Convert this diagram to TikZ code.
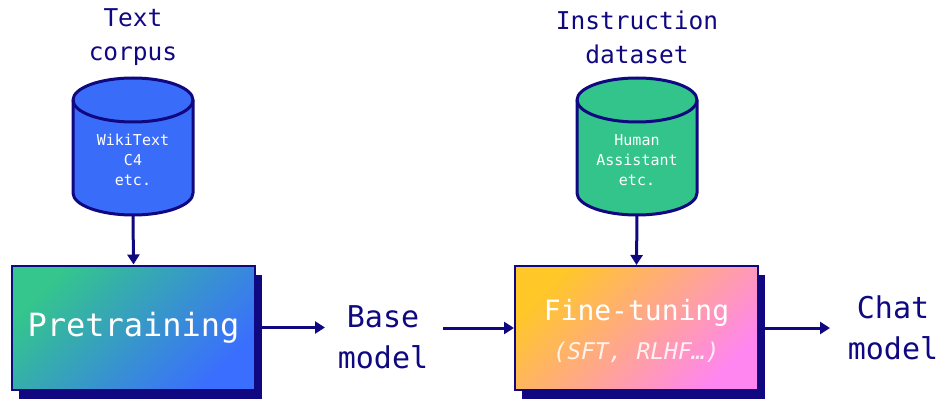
\documentclass[tikz,border=0pt]{standalone}
\usepackage{fontspec}
\setmonofont{DejaVu Sans Mono}
\usetikzlibrary{arrows.meta,shadows}
\definecolor{navy}{RGB}{16,8,128}
\definecolor{cylblue}{RGB}{58,108,250}
\definecolor{cylgreen}{RGB}{50,196,138}
\definecolor{ptgreen}{RGB}{52,198,140}
\definecolor{ptblue}{RGB}{58,110,255}
\definecolor{ftyellow}{RGB}{255,199,40}
\definecolor{ftpink}{RGB}{255,134,240}
\begin{document}
\begin{tikzpicture}[x=1pt,y=1pt,
  lbl/.style={text=navy,align=center,font=\ttfamily\fontsize{24.5}{34}\selectfont},
  bigl/.style={text=navy,align=center,font=\ttfamily\fontsize{30}{41}\selectfont},
  cyltext/.style={text=white,align=center,font=\ttfamily\fontsize{15}{20}\selectfont},
  cyl/.style={draw=navy,line width=3pt},
  arr/.style={draw=navy,line width=3pt,-{Triangle[length=10pt,width=12pt]}},
  stagebox/.style={draw=navy,line width=2pt,minimum width=243pt,minimum height=124pt,
     drop shadow={shadow xshift=7pt,shadow yshift=-9pt,fill=navy,opacity=1}}
]
\useasboundingbox (0,0) rectangle (939,402);
% top labels
\node[lbl] (tc) at (133,364.5) {Text\\corpus};
\node[lbl] (id) at (637,364.5) {Instruction\\dataset};
% cylinder 1
\fill[cylblue] (73,302) -- (73,209) arc[start angle=180,end angle=360,x radius=60pt,y radius=22pt] -- (193,302) arc[start angle=0,end angle=180,x radius=60pt,y radius=22pt] -- cycle;
\draw[cyl] (73,302) -- (73,209) arc[start angle=180,end angle=360,x radius=60pt,y radius=22pt] -- (193,302) arc[start angle=0,end angle=180,x radius=60pt,y radius=22pt] -- cycle;
\draw[cyl] (73,302) arc[start angle=180,end angle=360,x radius=60pt,y radius=22pt];
\node[cyltext] (db1) at (133,242) {WikiText\\C4\\etc.};
\coordinate (db1bot) at (133,187);
% cylinder 2
\fill[cylgreen] (577,302) -- (577,209) arc[start angle=180,end angle=360,x radius=60pt,y radius=22pt] -- (697,302) arc[start angle=0,end angle=180,x radius=60pt,y radius=22pt] -- cycle;
\draw[cyl] (577,302) -- (577,209) arc[start angle=180,end angle=360,x radius=60pt,y radius=22pt] -- (697,302) arc[start angle=0,end angle=180,x radius=60pt,y radius=22pt] -- cycle;
\draw[cyl] (577,302) arc[start angle=180,end angle=360,x radius=60pt,y radius=22pt];
\node[cyltext] (db2) at (637,242) {Human\\Assistant\\etc.};
\coordinate (db2bot) at (637,187);
% boxes
\node[stagebox,top color=ptgreen,bottom color=ptblue,shading angle=45] (pre) at (133.5,74.5) {};
\node[text=white,font=\ttfamily\fontsize{32}{36}\selectfont] (pretxt) at (pre.center) {Pretraining};
\node[stagebox,top color=ftyellow,bottom color=ftpink,shading angle=45] (ft) at (636.5,74) {};
\node[text=white,font=\ttfamily\fontsize{28}{32}\selectfont] (fttxt) at (636.5,89) {Fine-tuning};
\node[text=white,text opacity=0.85,font=\ttfamily\itshape\fontsize{23}{28}\selectfont] (ftsub) at (636.5,50) {(SFT, RLHF…)};
% outputs
\node[bigl] (base) at (383,64.5) {Base\\model};
\node[bigl] (chat) at (893,74) {Chat\\model};
\coordinate (a1end) at (325,74.5);
\coordinate (a2start) at (443,74);
\coordinate (a3end) at (830,74);
% arrows
\draw[arr] (db1bot) -- (pre.north);
\draw[arr] (db2bot) -- (ft.north);
\draw[arr] (pre.east) -- (a1end);
\draw[arr] (a2start) -- (ft.west);
\draw[arr] (ft.east) -- (a3end);
\end{tikzpicture}
\end{document}
